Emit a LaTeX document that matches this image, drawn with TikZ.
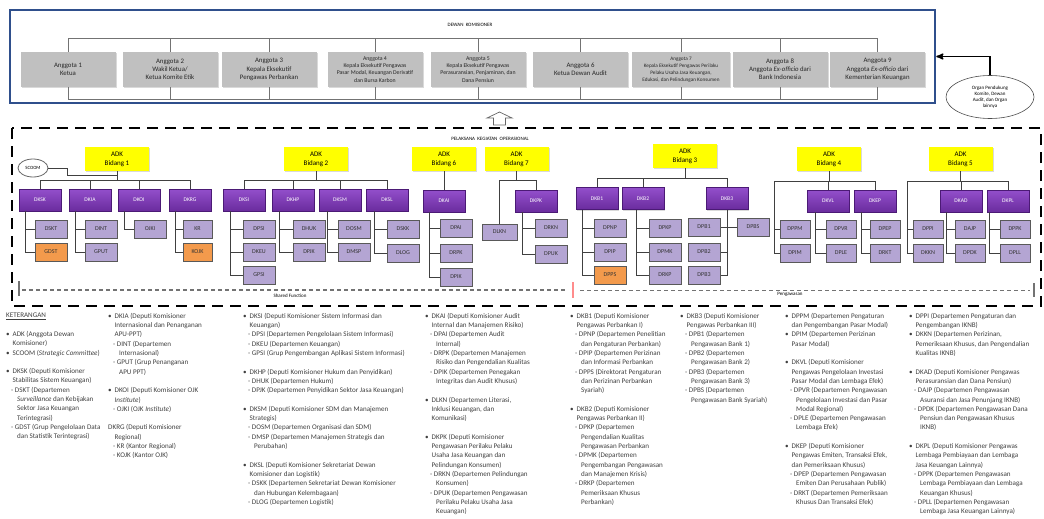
\documentclass[tikz,border=0pt]{standalone}
\usepackage{fontspec}
\setmainfont{Carlito}
\usepackage{tikz}
\usetikzlibrary{arrows,shapes,shapes.geometric,shadows,positioning}
\tikzset{>=stealth'}

\definecolor{akF}{HTML}{C0C0C0}
\definecolor{dkB}{HTML}{2F4F8C}
\definecolor{adkF}{HTML}{FFFF00}
\definecolor{depA}{HTML}{934FCB}
\definecolor{depB}{HTML}{6A2C9E}
\definecolor{depD}{HTML}{4B1A75}
\definecolor{deptF}{HTML}{B4A5D3}
\definecolor{deptD}{HTML}{595959}
\definecolor{orgF}{HTML}{F39A4C}

\tikzset{
  conn/.style={draw=black!75, line width=0.7pt},
  shd/.style={drop shadow={opacity=0.3,shadow xshift=1pt,shadow yshift=-1pt}},
  akbox/.style={fill=akF, minimum width=95pt, minimum height=35pt, align=center, inner sep=1pt,
    text=black!85, font=\fontsize{6.8}{8.2}\selectfont, shd},
  aksmall/.style={font=\fontsize{5.8}{7.2}\selectfont},
  aktiny/.style={font=\fontsize{5.2}{7}\selectfont},
  adkbox/.style={fill=adkF, minimum width=64pt, minimum height=24pt, align=center, inner sep=1pt,
    font=\fontsize{7}{9}\selectfont, shd},
  depbox/.style={top color=depA, bottom color=depB, draw=depD, line width=0.9pt, minimum width=42pt,
    minimum height=22pt, text=white, font=\fontsize{5.6}{6}\selectfont, inner sep=0pt, shd},
  deptbox/.style={fill=deptF, draw=deptD, line width=1pt, minimum width=32pt, minimum height=18pt,
    inner sep=0pt, text=black!80, font=\fontsize{6}{6.5}\selectfont, shd},
  orbox/.style={deptbox, fill=orgF},
  legend/.style={anchor=north west, align=left, inner sep=0pt, text=black!75,
    font=\fontsize{7.1}{9.3}\selectfont},
  lbl/.style={font=\fontsize{5}{6}\selectfont, inner sep=0pt},
  sfline/.style={draw=black!55, line width=1.2pt, dash pattern=on 4pt off 3pt},
}

\newcommand{\bl}{\makebox[6.5pt][l]{\textbullet}}
\newcommand{\ind}{\hspace*{6.5pt}}
\newcommand{\sbi}{\hspace*{5pt}-\ }
\newcommand{\sbc}{\hspace*{11pt}}

\begin{document}
\begin{tikzpicture}[x=1pt,y=-1pt]
\useasboundingbox (0,0) rectangle (1044,519);
\def\gap {9.3pt} % blank line in legend
% dewan komisioner:
\node[draw=dkB, line width=2.5pt, minimum width=925pt, minimum height=93pt, inner sep=0pt] (dk) at (472.5,56.5) {};
\node[lbl] (dkt) at (470,25) {DEWAN\ \ KOMISIONER};
\node[akbox] (a1) at (68,69.5) {Anggota 1\\Ketua};
\node[akbox] (a2) at (170,69.5) {Anggota 2\\Wakil Ketua/\\Ketua Komite Etik};
\node[akbox] (a3) at (269,69.5) {Anggota 3\\Kepala Eksekutif\\Pengawas Perbankan};
\node[akbox, aksmall] (a4) at (375,69.5) {Anggota 4\\Kepala Eksekutif Pengawas\\Pasar Modal, Keuangan Derivatif\\dan Bursa Karbon};
\node[akbox, aksmall] (a5) at (478,69.5) {Anggota 5\\Kepala Eksekutif Pengawas\\Perasuransian, Penjaminan, dan\\Dana Pensiun};
\node[akbox] (a6) at (580.5,69.5) {Anggota 6\\Ketua Dewan Audit};
\node[akbox, aktiny, minimum width=98pt] (a7) at (681,69.5) {Anggota 7\\Kepala Eksekutif Pengawas Perilaku\\Pelaku Usaha Jasa Keuangan,\\Edukasi, dan Pelindungan Konsumen};
\node[akbox] (a8) at (780,69.5) {Anggota 8\\Anggota \textit{Ex-officio} dari\\Bank Indonesia};
\node[akbox] (a9) at (877.5,69.5) {Anggota 9\\Anggota \textit{Ex-officio} dari\\Kementerian Keuangan};
\coordinate (tbar) at (0,38);
\coordinate (bbar) at (0,99);
\draw[conn, draw=black!55] (a1.north) |- (a9.north |- tbar) -- (a9.north);
\draw[conn, draw=black!55] (a1.south) |- (a9.south |- bbar) -- (a9.south);
\foreach \n in {2,...,8} {
  \draw[conn, draw=black!55] (a\n.north) -- (a\n.north |- tbar);
  \draw[conn, draw=black!55] (a\n.south) -- (a\n.south |- bbar);
}
% organ pendukung:
\node[draw=black!70, ellipse, line width=0.6pt, minimum width=88pt, minimum height=43pt, align=center,
  inner sep=0pt, font=\fontsize{5}{6.2}\selectfont] (org) at (990,97) {Organ Pendukung\\Komite, Dewan\\Audit, dan Organ\\lainnya};
\draw[->, line width=1.5pt] (org.north) |- (dk.east);
% hollow arrow:
\draw[draw=black!60, fill=white, line width=0.7pt] (493.5,125) -- (493.5,118) -- (487,118) -- (499.5,112)
  -- (512,118) -- (505.5,118) -- (505.5,125) -- cycle;
%% pelaksana kegiatan operasional:
\draw[line width=2.5pt, dash pattern=on 11pt off 7pt] (12,128) rectangle (1041,306);
\node[lbl] (pko) at (490,139) {PELAKSANA\ \ KEGIATAN\ \ OPERASIONAL};
% ADK:
\node[adkbox] (adk1) at (117,159) {ADK\\Bidang 1};
\node[adkbox] (adk2) at (316,159) {ADK\\Bidang 2};
\node[adkbox] (adk6) at (444,159) {ADK\\Bidang 6};
\node[adkbox] (adk7) at (516.5,159) {ADK\\Bidang 7};
\node[adkbox] (adk3) at (685,156) {ADK\\Bidang 3};
\node[adkbox] (adk4) at (829,159) {ADK\\Bidang 4};
\node[adkbox] (adk5) at (960.5,159) {ADK\\Bidang 5};
\node[draw=black!60, ellipse, line width=0.8pt, minimum width=30pt, minimum height=18pt, inner sep=0pt,
  font=\fontsize{4.8}{5}\selectfont] (scoom) at (33,168) {SCOOM};
% deputi:
\node[depbox] (dksk) at (40,200) {DKSK};
\node[depbox] (dkia) at (90,200) {DKIA};
\node[depbox] (dkoi) at (139,200) {DKOI};
\node[depbox] (dkrg) at (190,200) {DKRG};
\node[depbox] (dksi) at (244,200) {DKSI};
\node[depbox] (dkhp) at (293,200) {DKHP};
\node[depbox] (dksm) at (340,200) {DKSM};
\node[depbox] (dksl) at (387,200) {DKSL};
\node[depbox] (dkai) at (444,201) {DKAI};
\node[depbox] (dkpk) at (536,201) {DKPK};
\node[depbox] (dkb1) at (597,198.5) {DKB1};
\node[depbox] (dkb2) at (643,198.5) {DKB2};
\node[depbox] (dkb3) at (727,198.5) {DKB3};
\node[depbox] (dkvl) at (828,201) {DKVL};
\node[depbox] (dkep) at (875,201) {DKEP};
\node[depbox] (dkad) at (961,201) {DKAD};
\node[depbox] (dkpl) at (1008,201) {DKPL};
% departemen:
\node[deptbox] (dskt) at (51,229) {DSKT};
\node[orbox] (gdst) at (51,252) {GDST};
\node[deptbox] (dint) at (101,229) {DINT};
\node[deptbox] (gput) at (101,252) {GPUT};
\node[deptbox] (ojki) at (150,229) {OJKI};
\node[deptbox, minimum width=29pt] (kr) at (197.5,229) {KR};
\node[orbox, minimum width=29pt] (kojk) at (197.5,252) {KOJK};
\node[deptbox] (dpsi) at (259,229) {DPSI};
\node[deptbox] (dkeu) at (259,252) {DKEU};
\node[deptbox] (gpsi) at (259,275) {GPSI};
\node[deptbox] (dhuk) at (309,229) {DHUK};
\node[deptbox] (dpjk) at (309,252) {DPJK};
\node[deptbox] (dosm) at (354,229) {DOSM};
\node[deptbox] (dmsp) at (354,252) {DMSP};
\node[deptbox] (dskk) at (403,229) {DSKK};
\node[deptbox] (dlog) at (403,253) {DLOG};
\node[deptbox] (dpai) at (456,228) {DPAI};
\node[deptbox] (drpk) at (456,253) {DRPK};
\node[deptbox] (dpik) at (456,277) {DPIK};
\node[deptbox, minimum width=35pt, minimum height=16pt] (dlkn) at (499.5,232) {DLKN};
\node[deptbox] (drkn) at (551,228) {DRKN};
\node[deptbox] (dpuk) at (551,254) {DPUK};
\node[deptbox] (dpnp) at (610,228) {DPNP};
\node[deptbox] (dpip) at (610,252) {DPIP};
\node[orbox] (dpps) at (610,275) {DPPS};
\node[deptbox] (dpkp) at (665,228) {DPKP};
\node[deptbox] (dpmk) at (665,252) {DPMK};
\node[deptbox] (drkp) at (665,275) {DRKP};
\node[deptbox] (dpb1) at (704,227) {DPB1};
\node[deptbox] (dpb2) at (704,252) {DPB2};
\node[deptbox] (dpb3) at (704,275) {DPB3};
\node[deptbox] (dpbs) at (753,227) {DPBS};
\node[deptbox, minimum width=30pt] (dppm) at (795,229) {DPPM};
\node[deptbox, minimum width=30pt] (dpim) at (795,253) {DPIM};
\node[deptbox, minimum width=30pt] (dpvr) at (841,229) {DPVR};
\node[deptbox, minimum width=30pt] (dple) at (841,253) {DPLE};
\node[deptbox, minimum width=30pt] (dpep) at (885,229) {DPEP};
\node[deptbox, minimum width=30pt] (drkt) at (885,253) {DRKT};
\node[deptbox, minimum width=30pt] (dppi) at (928,229) {DPPI};
\node[deptbox, minimum width=30pt] (dkkn) at (928,253) {DKKN};
\node[deptbox, minimum width=30pt] (dajp) at (970,229) {DAJP};
\node[deptbox, minimum width=30pt] (dpdk) at (970,253) {DPDK};
\node[deptbox, minimum width=30pt] (dppk) at (1015,229) {DPPK};
\node[deptbox, minimum width=30pt] (dpll) at (1015,253) {DPLL};
%% connectors:
% bidang 1
\coordinate (b1) at (40,180);
\coordinate (b1s) at (117,175);
\draw[conn] (dksk.north) -- (b1) -| (dkrg.north);
\foreach \d in {dkia,dkoi} \draw[conn] (\d.north) -- (\d.north |- b1);
\draw[conn] (adk1.south) -- (adk1.south |- b1);
\draw[conn] (scoom.east) -- ++(19,0) |- (b1s);
% bidang 2
\coordinate (b2) at (244,180);
\draw[conn] (dksi.north) -- (b2) -| (dksl.north);
\foreach \d in {dkhp,dksm} \draw[conn] (\d.north) -- (\d.north |- b2);
\draw[conn] (adk2.south) -- (adk2.south |- b2);
% bidang 6 and 7
\draw[conn] (adk6.south) -- (dkai.north);
\coordinate (b7) at (499.5,180);
\draw[conn] (b7) -| (dkpk.north);
\draw[conn] (b7) -- (dlkn.north);
\draw[conn] (adk7.south) -- (adk7.south |- b7);
% bidang 3
\coordinate (b3) at (597,178);
\draw[conn] (dkb1.north) -- (b3) -| (dkb3.north);
\draw[conn] (dkb2.north) -- (dkb2.north |- b3);
\draw[conn] (adk3.south) -- (adk3.south |- b3);
\draw[conn] (dkb3.south) |- (dpb3.east);
\foreach \c in {dpb1,dpb2} \draw[conn] (dkb3.south |- \c.east) -- (\c.east);
\draw[conn] (dkb3.south |- dpbs.west) -- (dpbs.west);
% bidang 4
\coordinate (b4) at (774,181);
\draw[conn] (b4) -| (dkep.north);
\draw[conn] (dkvl.north) -- (dkvl.north |- b4);
\draw[conn] (adk4.south) -- (adk4.south |- b4);
\draw[conn] (b4) |- (dpim.west);
\draw[conn] (b4) |- (dppm.west);
% bidang 5
\coordinate (b5) at (907,181);
\draw[conn] (b5) -| (dkpl.north);
\draw[conn] (dkad.north) -- (dkad.north |- b5);
\draw[conn] (adk5.south) -- (adk5.south |- b5);
\draw[conn] (b5) |- (dkkn.west);
\draw[conn] (b5) |- (dppi.west);
% deputi to departemen
\foreach \p/\c/\o in {dksk/dskt/7, dksk/gdst/7, dkia/dint/7, dkia/gput/7, dkoi/ojki/7, dkrg/kr/7, dkrg/kojk/7,
  dksi/dpsi/8, dksi/dkeu/8, dksi/gpsi/8, dkhp/dhuk/8, dkhp/dpjk/8, dksm/dosm/9, dksm/dmsp/9,
  dksl/dskk/9, dksl/dlog/9, dkai/dpai/7, dkai/drpk/7, dkai/dpik/7, dkpk/drkn/8, dkpk/dpuk/8,
  dkb1/dpnp/7, dkb1/dpip/7, dkb1/dpps/7, dkb2/dpkp/15, dkb2/dpmk/15, dkb2/drkp/15,
  dkvl/dpvr/9, dkvl/dple/9, dkep/dpep/8, dkep/drkt/8, dkad/dajp/7, dkad/dpdk/7, dkpl/dppk/3, dkpl/dpll/3}
  \draw[conn] ([xshift=\o pt]\p.south west) |- (\c.west);
% shared function / pengawasan:
\draw[sfline] (22,290) -- (565,290);
\draw[sfline] (580,290.5) -- (1030,290.5);
\draw[draw=black!55, line width=2pt] (19,281) -- (19,296);
\draw[draw=red!45, line width=1.5pt] (573,282) -- (573,298);
\draw[draw=black!55, line width=2pt] (1034,283) -- (1034,297);
\node[lbl] (sf) at (290,296) {Shared Function};
\node[lbl] (pg) at (790,294) {Pengawasan};
%% keterangan:
\node[legend] (leg1) at (6,313) {\underline{KETERANGAN}\\[\gap]
\bl ADK (Anggota Dewan\\
\ind Komisioner)\\
\bl SCOOM (\textit{Strategic Committee})\\[\gap]
\bl DKSK (Deputi Komisioner\\
\ind Stabilitas Sistem Keuangan)\\
\sbi DSKT (Departemen\\
\sbc \textit{Surveillance} dan Kebijakan\\
\sbc Sektor Jasa Keuangan\\
\sbc Terintegrasi)\\
\sbi GDST (Grup Pengelolaan Data\\
\sbc dan Statistik Terintegrasi)};
\node[legend] (leg2) at (108,313) {\bl DKIA (Deputi Komisioner\\
\ind Internasional dan Penanganan\\
\ind APU-PPT)\\
\sbi DINT (Departemen\\
\sbc Internasional)\\
\sbi GPUT (Grup Penanganan\\
\sbc APU PPT)\\[\gap]
\bl DKOI (Deputi Komisioner OJK\\
\ind \textit{Institute})\\
\sbi OJKI (OJK \textit{Institute})\\[\gap]
DKRG (Deputi Komisioner\\
\ind Regional)\\
\sbi KR (Kantor Regional)\\
\sbi KOJK (Kantor OJK)};
\node[legend] (leg3) at (243,313) {\bl DKSI (Deputi Komisioner Sistem Informasi dan\\
\ind Keuangan)\\
\sbi DPSI (Departemen Pengelolaan Sistem Informasi)\\
\sbi DKEU (Departemen Keuangan)\\
\sbi GPSI (Grup Pengembangan Aplikasi Sistem Informasi)\\[\gap]
\bl DKHP (Deputi Komisioner Hukum dan Penyidikan)\\
\sbi DHUK (Departemen Hukum)\\
\sbi DPJK (Departemen Penyidikan Sektor Jasa Keuangan)\\[\gap]
\bl DKSM (Deputi Komisioner SDM dan Manajemen\\
\ind Strategis)\\
\sbi DOSM (Departemen Organisasi dan SDM)\\
\sbi DMSP (Departemen Manajemen Strategis dan\\
\sbc Perubahan)\\[\gap]
\bl DKSL (Deputi Komisioner Sekretariat Dewan\\
\ind Komisioner dan Logistik)\\
\sbi DSKK (Departemen Sekretariat Dewan Komisioner\\
\sbc dan Hubungan Kelembagaan)\\
\sbi DLOG (Departemen Logistik)};
\node[legend] (leg4) at (425,313) {\bl DKAI (Deputi Komisioner Audit\\
\ind Internal dan Manajemen Risiko)\\
\sbi DPAI (Departemen Audit\\
\sbc Internal)\\
\sbi DRPK (Departemen Manajemen\\
\sbc Risiko dan Pengendalian Kualitas\\
\sbi DPIK (Departemen Penegakan\\
\sbc Integritas dan Audit Khusus)\\[\gap]
\bl DLKN (Departemen Literasi,\\
\ind Inklusi Keuangan, dan\\
\ind Komunikasi)\\[\gap]
\bl DKPK (Deputi Komisioner\\
\ind Pengawasan Perilaku Pelaku\\
\ind Usaha Jasa Keuangan dan\\
\ind Pelindungan Konsumen)\\
\sbi DRKN (Departemen Pelindungan\\
\sbc Konsumen)\\
\sbi DPUK (Departemen Pengawasan\\
\sbc Perilaku Pelaku Usaha Jasa\\
\sbc Keuangan)};
\node[legend] (leg5) at (570,313) {\bl DKB1 (Deputi Komisioner\\
\ind Pengawas Perbankan I)\\
\sbi DPNP (Departemen Penelitian\\
\sbc dan Pengaturan Perbankan)\\
\sbi DPIP (Departemen Perizinan\\
\sbc dan Informasi Perbankan\\
\sbi DPPS (Direktorat Pengaturan\\
\sbc dan Perizinan Perbankan\\
\sbc Syariah)\\[\gap]
\bl DKB2 (Deputi Komisioner\\
\ind Pengawas Perbankan II)\\
\sbi DPKP (Departemen\\
\sbc Pengendalian Kualitas\\
\sbc Pengawasan Perbankan\\
\sbi DPMK (Departemen\\
\sbc Pengembangan Pengawasan\\
\sbc dan Manajemen Krisis)\\
\sbi DRKP (Departemen\\
\sbc Pemeriksaan Khusus\\
\sbc Perbankan)};
\node[legend] (leg6) at (680,313) {\bl DKB3 (Deputi Komisioner\\
\ind Pengawas Perbankan III)\\
\sbi DPB1 (Departemen\\
\sbc Pengawasan Bank 1)\\
\sbi DPB2 (Departemen\\
\sbc Pengawasan Bank 2)\\
\sbi DPB3 (Departemen\\
\sbc Pengawasan Bank 3)\\
\sbi DPBS (Departemen\\
\sbc Pengawasan Bank Syariah)};
\node[legend] (leg7) at (785,313) {\bl DPPM (Departemen Pengaturan\\
\ind dan Pengembangan Pasar Modal)\\
\bl DPIM (Departemen Perizinan\\
\ind Pasar Modal)\\[\gap]
\bl DKVL (Deputi Komisioner\\
\ind Pengawas Pengelolaan Investasi\\
\ind Pasar Modal dan Lembaga Efek)\\
\sbi DPVR (Departemen Pengawasan\\
\sbc Pengelolaan Investasi dan Pasar\\
\sbc Modal Regional)\\
\sbi DPLE (Departemen Pengawasan\\
\sbc Lembaga Efek)\\[\gap]
\bl DKEP (Deputi Komisioner\\
\ind Pengawas Emiten, Transaksi Efek,\\
\ind dan Pemeriksaan Khusus)\\
\sbi DPEP (Departemen Pengawasan\\
\sbc Emiten Dan Perusahaan Publik)\\
\sbi DRKT (Departemen Pemeriksaan\\
\sbc Khusus Dan Transaksi Efek)};
\node[legend] (leg8) at (909,313) {\bl DPPI (Departemen Pengaturan dan\\
\ind Pengembangan IKNB)\\
\bl DKKN (Departemen Perizinan,\\
\ind Pemeriksaan Khusus, dan Pengendalian\\
\ind Kualitas IKNB)\\[\gap]
\bl DKAD (Deputi Komisioner Pengawas\\
\ind Perasuransian dan Dana Pensiun)\\
\sbi DAJP (Departemen Pengawasan\\
\sbc Asuransi dan Jasa Penunjang IKNB)\\
\sbi DPDK (Departemen Pengawasan Dana\\
\sbc Pensiun dan Pengawasan Khusus\\
\sbc IKNB)\\[\gap]
\bl DKPL (Deputi Komisioner Pengawas\\
\ind Lembaga Pembiayaan dan Lembaga\\
\ind Jasa Keuangan Lainnya)\\
\sbi DPPK (Departemen Pengawasan\\
\sbc Lembaga Pembiayaan dan Lembaga\\
\sbc Keuangan Khusus)\\
\sbi DPLL (Departemen Pengawasan\\
\sbc Lembaga Jasa Keuangan Lainnya)};
\end{tikzpicture}
\end{document}
